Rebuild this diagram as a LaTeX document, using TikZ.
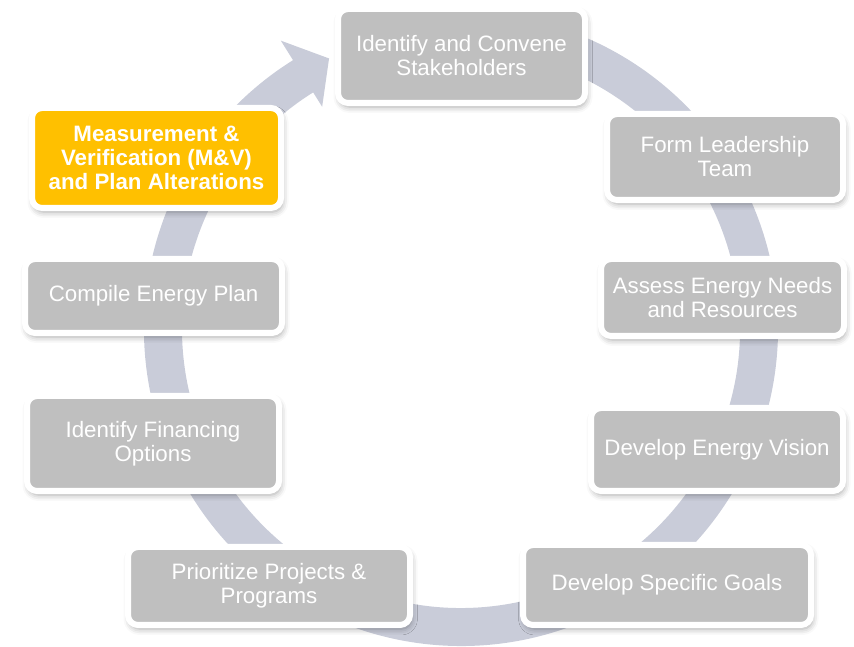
\documentclass[tikz,border=0pt]{standalone}
\usepackage{fontspec}
\setmainfont{Liberation Sans}
\usetikzlibrary{shadows.blur}
\definecolor{ringcol}{RGB}{201,204,217}
\definecolor{boxgray}{RGB}{191,191,191}
\definecolor{mvgold}{RGB}{255,192,0}
\tikzset{
	stepbox/.style={draw=white, line width=6pt, fill=boxgray, rounded corners=10pt, text=white, align=center, inner sep=0pt, font=\fontsize{22.3}{24}\selectfont, blur shadow={shadow xshift=1.5pt, shadow yshift=-4pt, shadow blur radius=6pt, shadow opacity=35}},
	mvbox/.style={stepbox, fill=mvgold, font=\fontsize{22.3}{24}\selectfont\bfseries}
}

\begin{document}
\begin{tikzpicture}[x=1pt, y=1pt]
			%%%%% START %%%%%
			\useasboundingbox (0, 0) rectangle (854, 647);
			
			% ring with arrow head
			\begin{scope}[shift={(461, 318)}]
				\fill[ringcol] (100:279) arc[start angle=100, end angle=-238, radius=279] -- (-238:262) -- (-244:301) -- (-238:340) -- (-238:317) arc[start angle=-238, end angle=100, radius=317] -- cycle;
			\end{scope}
			
			\node[stepbox, minimum width=247pt, minimum height=94pt] (convene) at (461.5, 591) {Identify and Convene\\Stakeholders};
			\node[stepbox, minimum width=236pt, minimum height=86pt] (leader) at (725, 490) {Form Leadership\\Team};
			\node[stepbox, minimum width=243pt, minimum height=77pt] (assess) at (722.5, 349.5) {Assess Energy Needs\\and Resources};
			\node[stepbox, minimum width=252pt, minimum height=83pt] (vision) at (717, 197.5) {Develop Energy Vision};
			\node[stepbox, minimum width=288pt, minimum height=80pt] (goals) at (667, 62) {Develop Specific Goals};
			\node[stepbox, minimum width=282pt, minimum height=78pt] (prior) at (269, 61) {Prioritize Projects \&\\Programs};
			\node[stepbox, minimum width=252pt, minimum height=95pt] (financ) at (153, 203.5) {Identify Financing\\Options};
			\node[stepbox, minimum width=257pt, minimum height=74pt] (compile) at (153.5, 351) {Compile Energy Plan};
			\node[mvbox, minimum width=249pt, minimum height=100pt] (mv) at (156.5, 489) {Measurement \&\\Verification (M\&V)\\and Plan Alterations};
			%%%%% END %%%%%
\end{tikzpicture}
\end{document}
